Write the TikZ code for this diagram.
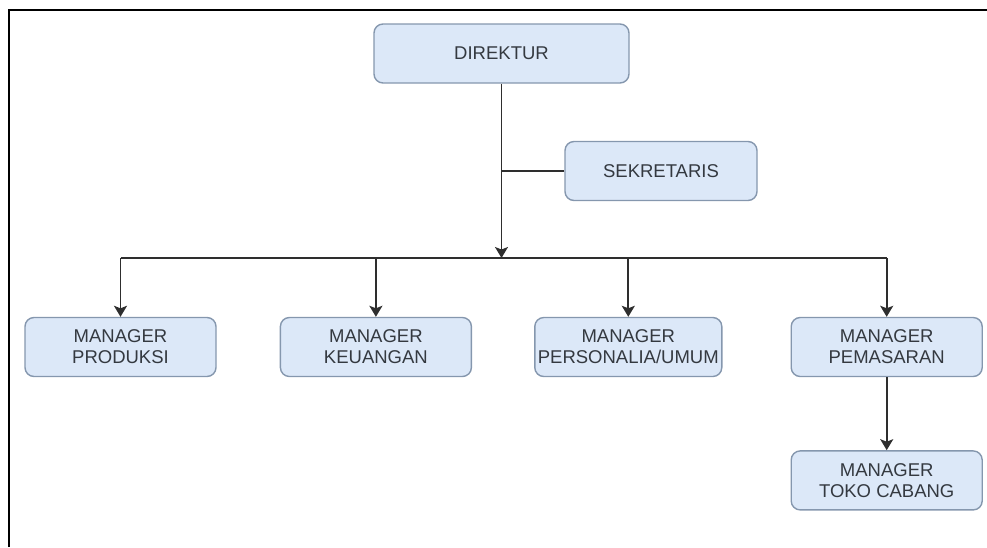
\documentclass[tikz,border=0pt]{standalone}
\usepackage{fontspec}
\setmainfont{Liberation Sans}
\usetikzlibrary{positioning,arrows.meta}

\definecolor{boxfill}{HTML}{DCE8F8}
\definecolor{boxline}{HTML}{8597AE}
\definecolor{txt}{HTML}{343940}
\definecolor{wire}{HTML}{2E2E2E}

\tikzset{
	unit/.style={draw=boxline, line width=1.4pt, fill=boxfill, rounded corners=9pt,
		minimum width=191pt, minimum height=59pt, inner sep=0pt, align=center,
		text=txt, font=\fontsize{18.5}{21}\selectfont},
	wireline/.style={draw=wire, line width=1.8pt},
	link/.style={wireline, -{Stealth[length=11pt,width=13pt,inset=2.5pt]}},
}

\begin{document}
\begin{tikzpicture}[x=1pt, y=-1pt]
	\useasboundingbox (0,0) rectangle (987,547);
	\draw[line width=2pt] (9,547) -- (9,10) -- (987,10);

		\node[unit, minimum width=255pt] (dir) at (501.5,53.5) {DIREKTUR};
		\node[unit, minimum width=192pt] (sek) at (661,171) {SEKRETARIS};

		\node[unit] (prod) at (120.5,347) {MANAGER\\PRODUKSI};
		\node[unit, right=63pt of prod] (keu) {MANAGER\\KEUANGAN};
		\node[unit, minimum width=187pt, right=62pt of keu] (pers) {MANAGER\\PERSONALIA/UMUM};
		\node[unit, right=68pt of pers] (pem) {MANAGER\\PEMASARAN};
		\node[unit, below=73pt of pem] (toko) {MANAGER\\TOKO CABANG};

		\coordinate (bar) at (dir.south |- 0,258);

		\draw[link] (dir.south) -- (bar);
		\draw[wireline] (sek.west) -- (sek.west -| dir.south);
		\draw[wireline] (prod |- bar) -- (pem |- bar);
		\foreach \m in {prod,keu,pers,pem}
			\draw[link] (\m |- bar) -- (\m.north);
		\draw[link] (pem.south) -- (toko.north);
\end{tikzpicture}
\end{document}
